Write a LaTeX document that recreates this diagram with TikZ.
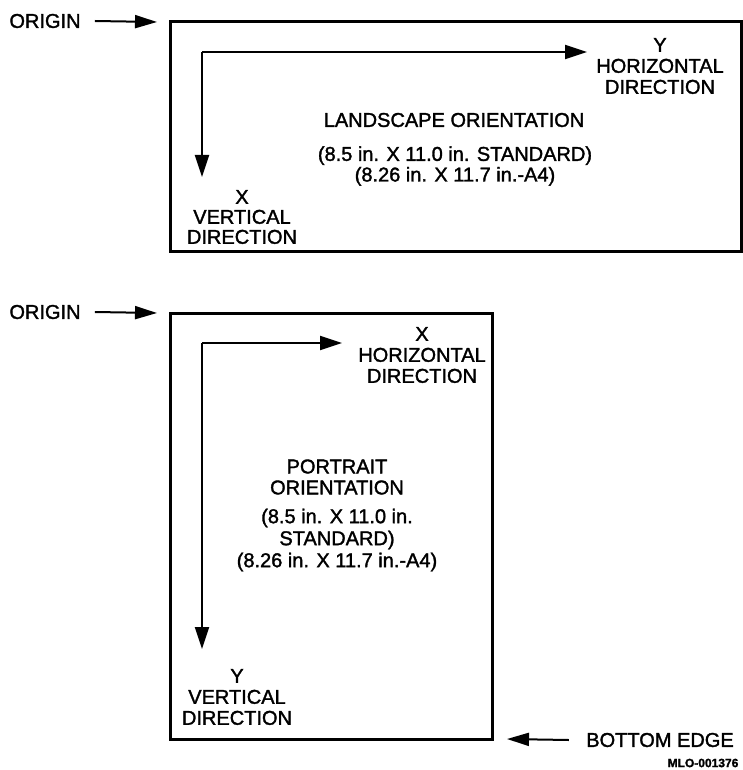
\documentclass[tikz,border=0pt]{standalone}
\usepackage{fontspec}
\setmainfont{Liberation Sans}[FakeBold=1.6]
\usetikzlibrary{arrows.meta}

\tikzset{
    sheet/.style={line width=1.5pt},
    axis/.style={line width=1pt, -{Triangle[length=11pt,width=7pt]}},
    pointer/.style={line width=1pt, -{Triangle[length=11pt,width=6.5pt]}},
    lbl/.style={align=center, inner sep=0pt, font=\fontsize{10}{10.5}\selectfont},
}

\begin{document}
\begin{tikzpicture}[x=0.5pt, y=-0.5pt]
    \useasboundingbox (0,0) rectangle (743,770);

    % Landscape sheet
    \draw[sheet] (170,22) rectangle (741,251);
    \coordinate (land-nw) at (170,22);
    \coordinate (land-corner) at (202,52);
    \coordinate (land-yend) at (587,52);
    \coordinate (land-xend) at (202,177);

    % Origin pointer (landscape)
    \node[lbl] (origin1) at (45,21) {ORIGIN};
    \draw[pointer] ([xshift=7pt]origin1.east) -- ([xshift=-6.5pt]land-nw);

    % Landscape axes
    \draw[axis] (land-corner) -- (land-yend);
    \draw[axis] (land-corner) -- (land-xend);
    \node[lbl] (land-ylbl) at (660,66) {Y\\HORIZONTAL\\DIRECTION};
    \node[lbl, font=\fontsize{10}{10}\selectfont] (land-xlbl) at (242,217) {X\\VERTICAL\\DIRECTION};

    % Landscape text
    \node[lbl] (land-title) at (454,120) {LANDSCAPE ORIENTATION};
    \node[lbl, font=\fontsize{10}{9}\selectfont] (land-size) at (455,166)
        {(8.5 in. X 11.0 in. STANDARD)\\(8.26 in. X 11.7 in.-A4)};

    % Portrait sheet
    \draw[sheet] (170,313) rectangle (492,739);
    \coordinate (port-nw) at (170,313);
    \coordinate (port-se) at (492,739);
    \coordinate (port-corner) at (202,343);
    \coordinate (port-xend) at (342,343);
    \coordinate (port-yend) at (202,649);

    % Origin pointer (portrait)
    \node[lbl] (origin2) at (45,312) {ORIGIN};
    \draw[pointer] ([xshift=7pt]origin2.east) -- ([xshift=-6.5pt]port-nw);

    % Portrait axes
    \draw[axis] (port-corner) -- (port-xend);
    \draw[axis] (port-corner) -- (port-yend);
    \node[lbl] (port-xlbl) at (422,355) {X\\HORIZONTAL\\DIRECTION};
    \node[lbl] (port-ylbl) at (237,697) {Y\\VERTICAL\\DIRECTION};

    % Portrait text
    \node[lbl] (port-title) at (337,477) {PORTRAIT\\ORIENTATION};
    \node[lbl, font=\fontsize{10}{11}\selectfont] (port-size) at (337,540)
        {(8.5 in. X 11.0 in.\\STANDARD)\\(8.26 in. X 11.7 in.-A4)};

    % Bottom edge pointer
    \node[lbl] (bottom) at (660,740) {BOTTOM EDGE};
    \draw[pointer] ([xshift=-8.5pt]bottom.west) -- ([xshift=7.5pt]port-se);

    % Figure number
    \node[lbl, font=\bfseries\fontsize{6}{6}\selectfont] (fignum) at (703,763) {MLO-001376};
\end{tikzpicture}
\end{document}
